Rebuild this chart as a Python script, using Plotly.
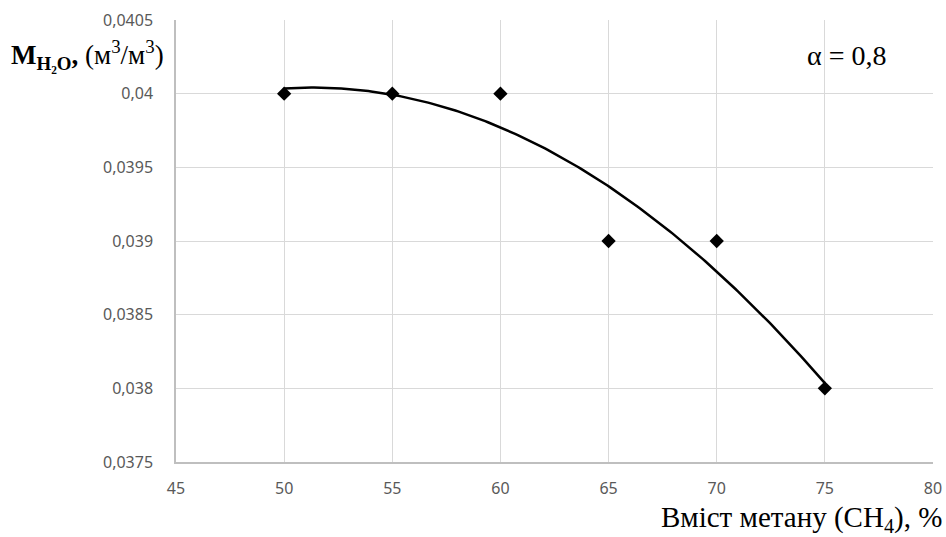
import numpy as np
import plotly.graph_objects as go

x_vals = [50, 55, 60, 65, 70, 75]
y_vals = [0.040, 0.040, 0.040, 0.039, 0.039, 0.038]

x_ticks = [45, 50, 55, 60, 65, 70, 75, 80]
y_ticks = [0.0375, 0.038, 0.0385, 0.039, 0.0395, 0.04, 0.0405]
y_tick_text = ["0,0375", "0,038", "0,0385", "0,039", "0,0395", "0,04", "0,0405"]

# Excel-style polynomial (order 2) trendline fitted to the data
coef = np.polyfit(x_vals, y_vals, 2)
xf = np.linspace(min(x_vals), max(x_vals), 200)
yf = np.polyval(coef, xf)

fig = go.Figure()
fig.add_trace(go.Scatter(x=xf, y=yf, mode="lines",
                         line=dict(color="black", width=2.5), hoverinfo="skip"))
fig.add_trace(go.Scatter(x=x_vals, y=y_vals, mode="markers",
                         marker=dict(symbol="diamond", size=11, color="black")))

tick_font = dict(family="Noto Sans, Open Sans, sans-serif", size=16, color="#595959")
fig.update_layout(
    width=946, height=537,
    margin=dict(l=176, r=13, t=20, b=75),
    paper_bgcolor="white", plot_bgcolor="white",
    showlegend=False,
    separators=", ",
    xaxis=dict(range=[45, 80], tickvals=x_ticks, ticktext=[str(v) for v in x_ticks],
               showgrid=True, gridcolor="#d9d9d9", gridwidth=1,
               showline=True, linecolor="#bfbfbf", linewidth=1.5,
               zeroline=False, ticks="", tickfont=tick_font, ticklabelstandoff=11,
               automargin=False),
    yaxis=dict(range=[0.0375, 0.0405], tickvals=y_ticks, ticktext=y_tick_text,
               showgrid=True, gridcolor="#d9d9d9", gridwidth=1,
               showline=True, linecolor="#bfbfbf", linewidth=1.5,
               zeroline=False, ticks="", tickfont=tick_font, ticklabelstandoff=18,
               automargin=False),
)

serif = "Liberation Serif, Times New Roman, serif"
fig.add_annotation(xref="paper", yref="paper", x=-0.221, y=0.92, xanchor="left", yanchor="middle",
                   text="<b>M<sub>H₂O</sub>,</b> (м<sup>3</sup>/м<sup>3</sup>)", showarrow=False,
                   font=dict(family=serif, size=27, color="black"))
fig.add_annotation(xref="paper", yref="paper", x=0.886, y=0.92, xanchor="center", yanchor="middle",
                   text="α = 0,8", showarrow=False,
                   font=dict(family=serif, size=28, color="black"))
fig.add_annotation(xref="paper", yref="paper", x=1.014, y=-0.13, xanchor="right", yanchor="middle",
                   text="Вміст метану (CH<sub>4</sub>), %", showarrow=False,
                   font=dict(family=serif, size=29, color="black"))

fig.write_html("out.html")
